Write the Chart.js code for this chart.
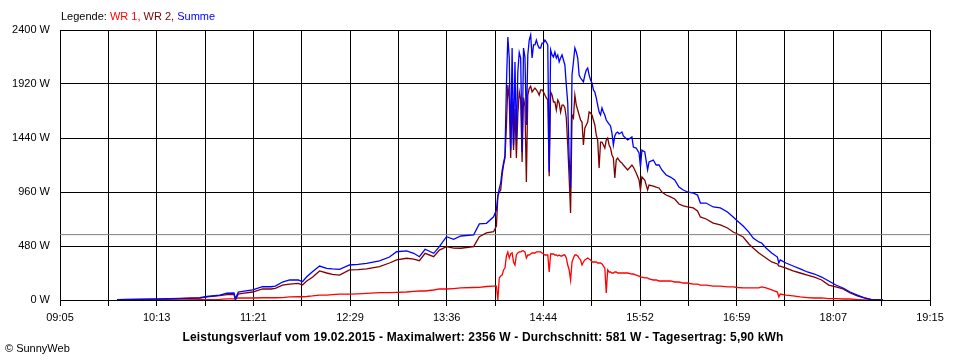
<!DOCTYPE html>
<html>
<head>
<meta charset="utf-8">
<script src="https://cdn.jsdelivr.net/npm/chart.js@4/dist/chart.umd.min.js"></script>
<style>
html,body{margin:0;padding:0;background:#fff;}
#wrap{position:relative;width:960px;height:360px;font-family:"Liberation Sans",Arial,sans-serif;color:#000;}
#c{position:absolute;left:0;top:0;}
#legend{position:absolute;left:61px;top:10px;font-size:11px;line-height:13px;white-space:nowrap;}
#title{position:absolute;left:0;width:966px;top:330px;text-align:center;font-size:12px;line-height:14px;letter-spacing:0.18px;font-weight:bold;white-space:nowrap;}
#copy{position:absolute;left:5px;top:342px;font-size:11px;line-height:13px;white-space:nowrap;}
</style>
</head>
<body>
<div id="wrap">
<canvas id="c" width="960" height="360"></canvas>
<div id="legend">Legende: <span style="color:#ff0000">WR 1,</span> <span style="color:#800000">WR 2,</span> <span style="color:#0000ff">Summe</span></div>
<div id="title">Leistungsverlauf vom 19.02.2015 - Maximalwert: 2356 W - Durchschnitt: 581 W - Tagesertrag: 5,90 kWh</div>
<div id="copy">© SunnyWeb</div>
</div>
<script>
// ---- data ----
const startTime = "09:05";
const endTime = "19:15";
const tickLabels = ["09:05","10:13","11:21","12:29","13:36","14:44","15:52","16:59","18:07","19:15"];
const yTicks = [0,480,960,1440,1920,2400];
const average = 581;

const times = [
"09:45","09:56","10:15","10:29","10:43","10:48","10:57","11:02","11:07","11:08",
"11:10","11:13","11:20","11:27","11:33","11:36","11:41","11:46","11:52","11:55",
"11:58","12:02","12:07","12:12","12:16","12:21","12:28","12:34","12:40","12:49",
"12:56","13:01","13:08","13:13","13:17","13:21","13:27","13:31","13:36","13:41",
"13:46","13:55","13:59","14:04","14:09","14:11",
"14:12","14:13","14:14","14:15","14:16","14:17","14:18","14:19","14:20","14:21",
"14:22","14:23","14:24","14:25","14:26","14:27","14:28","14:29","14:30","14:31",
"14:32","14:33","14:34","14:35","14:36","14:37","14:38","14:39","14:40","14:41",
"14:42","14:43","14:44","14:45","14:46","14:47","14:48","14:49","14:50","14:51",
"14:52","14:53","14:54","14:55","14:56","14:57","14:58","14:59","15:00","15:01",
"15:02","15:03","15:04","15:05","15:06","15:07","15:08","15:09","15:10","15:11",
"15:12","15:13","15:14","15:15","15:16","15:17","15:18","15:19","15:20","15:21",
"15:22","15:23","15:24","15:25","15:26","15:27","15:28","15:29","15:30","15:31",
"15:32","15:33","15:34","15:35","15:36","15:37","15:38","15:39","15:40",
"15:43","15:46","15:47","15:49","15:51","15:52","15:53","15:55","15:57","15:58",
"16:01","16:03","16:05","16:07","16:10","16:13","16:16","16:19","16:22","16:25",
"16:29","16:32","16:34","16:38","16:43","16:48","16:53","16:57","17:00","17:04",
"17:08","17:11","17:15","17:17","17:20","17:24","17:28","17:29","17:30","17:34",
"17:39","17:44","17:49","17:54","17:59","18:04","18:09","18:14","18:19","18:24",
"18:29","18:34","18:42"
];

const summe = [
4,6,9,15,20,31,44,60,62,10,
70,76,89,118,118,124,160,178,178,163,
207,252,302,282,276,273,311,316,326,347,
382,429,436,415,385,451,415,474,563,540,
569,578,676,682,740,800,
930,990,1040,1150,1220,1280,1911,2338,2150,1333,
2240,1378,2116,1422,2027,2200,2150,1316,2240,2160,
1556,2178,2311,2356,2151,2267,2267,2311,2267,2240,
2240,2284,2284,2311,2293,2267,1138,2222,2178,2160,
2204,2151,2178,2116,2151,2178,2133,2089,1911,1750,
1262,996,2000,2116,2240,2204,2151,2000,1973,1956,
1938,2000,2044,2062,2000,1956,1929,1867,1849,1796,
1733,1671,1644,1707,1671,1644,1600,1582,1564,1547,
1484,1378,1458,1484,1493,1476,1484,1493,1458,
1422,1449,1360,1351,1307,1182,1333,1316,1156,1227,
1244,1200,1200,1156,1111,1093,1067,1004,978,960,
951,933,862,862,827,818,782,738,702,658,
604,551,516,507,462,418,382,329,356,329,
302,276,249,231,204,169,133,107,71,44,
18,4,0
];

const wr2 = [
4,6,8,13,17,27,38,48,50,0,
52,58,71,98,98,104,133,142,148,133,
169,202,258,240,228,222,267,270,276,296,
329,356,371,364,349,415,385,444,474,462,
460,474,563,596,607,658,
924,960,978,1111,1200,1262,1550,1910,1780,1262,
1796,1333,1700,1262,1650,1850,1780,1227,1800,1720,
1049,1822,1880,1900,1849,1867,1884,1867,1849,1822,
1867,1867,1849,1822,1796,1778,1100,1849,1822,1760,
1760,1689,1778,1751,1671,1733,1733,1707,1618,1378,
1084,773,1644,1618,1822,1733,1689,1644,1600,1582,
1378,1529,1556,1582,1671,1662,1644,1600,1556,1467,
1422,1173,1404,1404,1378,1351,1422,1440,1378,1351,
1289,1262,1084,1244,1262,1244,1227,1218,1200,
1156,1200,1182,1129,1067,978,1093,1067,978,1022,
1013,1004,996,960,933,916,898,853,836,827,
818,791,738,720,684,667,640,604,587,560,
498,462,418,400,373,338,320,302,302,284,
258,240,222,204,178,133,116,98,62,36,
18,4,0
];

const wr1 = [
0,0,1,2,3,4,6,10,10,10,
18,18,18,20,20,20,22,27,29,29,
31,36,44,44,48,53,53,55,58,65,
65,67,71,76,80,80,89,98,98,102,
107,111,113,120,124,124,
0,196,213,222,267,284,391,427,373,409,
418,338,311,400,418,427,427,436,436,427,
373,400,400,409,418,418,418,427,427,427,
427,418,409,400,400,400,249,409,409,409,
400,400,391,400,391,391,400,400,373,311,
267,178,338,373,400,400,391,373,356,311,
338,356,364,373,364,356,338,338,338,338,
329,329,329,320,302,284,62,267,249,249,
240,240,249,249,240,240,240,240,240,
240,231,231,222,213,204,204,196,196,187,
178,178,169,169,169,169,160,160,151,151,
142,142,133,133,124,124,116,116,111,107,
107,107,107,116,107,89,71,27,53,44,
36,27,22,18,18,13,13,9,9,4,
0,0,0
];

// ---- helpers ----
function toMin(s){const p=s.split(":");return (+p[0])*60+(+p[1]);}
const t0 = toMin(startTime);
const span = toMin(endTime) - t0;
function pts(arr){return times.map((t,i)=>({x:toMin(t)-t0,y:arr[i]}));}
const nGrid = (tickLabels.length-1)*2;

const FONT = "Liberation Sans";
Chart.defaults.font.family = FONT;
Chart.defaults.font.size = 11;
Chart.defaults.color = "#000";

const lineDs = (label, arr, color, order) => ({
  label, data: pts(arr), borderColor: color, backgroundColor: color,
  borderWidth: 1.3, pointRadius: 0, tension: 0, fill: false, order
});

new Chart(document.getElementById("c"), {
  type: "line",
  data: {
    datasets: [
      lineDs("Summe", summe, "#0000ff", 0),
      lineDs("WR 2", wr2, "#800000", 1),
      lineDs("WR 1", wr1, "#ff0000", 2),
      {label:"Durchschnitt", data:[{x:0,y:average},{x:span,y:average}], borderColor:"#808080",
       borderWidth:1, pointRadius:0, order:3}
    ]
  },
  options: {
    responsive: false,
    animation: false,
    devicePixelRatio: 1,
    layout: {padding: {top: 30, right: 30, left: 0, bottom: 0}},
    plugins: {legend: {display: false}, tooltip: {enabled: false}, title: {display: false}},
    scales: {
      x: {
        type: "linear", min: 0, max: span,
        afterBuildTicks: s => { const a=[]; for (let i=0;i<=nGrid;i++) a.push({value: span*i/nGrid}); s.ticks = a; },
        afterFit: s => { s.height = 60; },
        ticks: {autoSkip: false, maxRotation: 0, minRotation: 0, padding: 5, color: "#000",
                font: {family: FONT, size: 11},
                callback: (v, i) => (i % 2 === 0 ? tickLabels[i/2] : "")},
        grid: {color: "#000", lineWidth: 1, drawTicks: true, tickLength: 6, tickColor: "#000"},
        border: {color: "#000", width: 1}
      },
      y: {
        min: 0, max: 2400,
        afterBuildTicks: s => { s.ticks = yTicks.map(v => ({value: v})); },
        afterFit: s => { s.width = 60; },
        ticks: {padding: 10, color: "#000", font: {family: FONT, size: 11}, callback: v => v + " W"},
        grid: {color: "#000", lineWidth: 1, drawTicks: false},
        border: {color: "#000", width: 1}
      }
    }
  }
});
</script>
</body>
</html>
